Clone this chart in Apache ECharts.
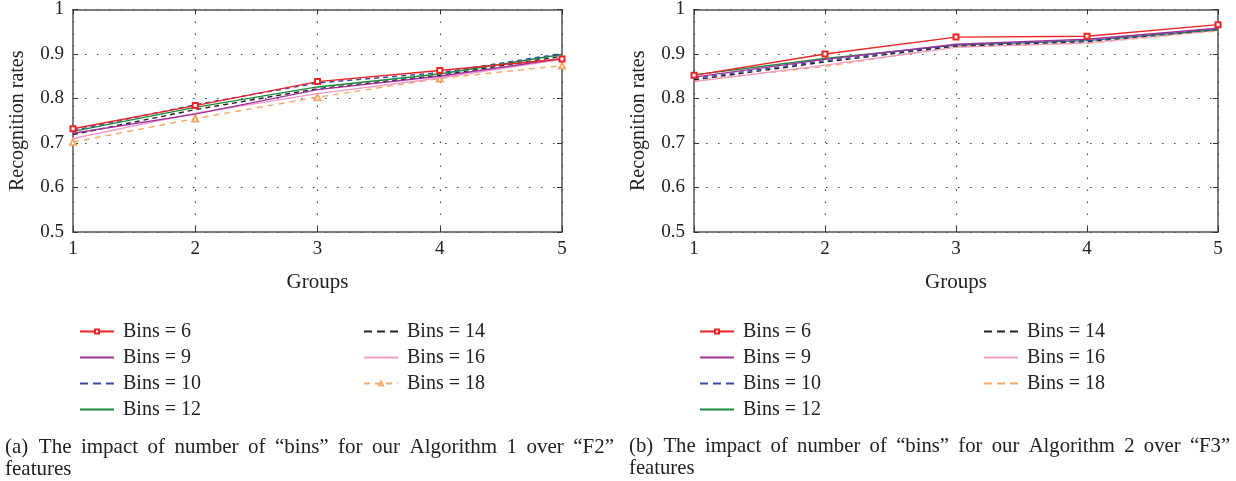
<!DOCTYPE html>
<html><head><meta charset="utf-8">
<script src="https://cdn.jsdelivr.net/npm/echarts@6/dist/echarts.min.js"></script>
<style>html,body{margin:0;padding:0;background:#fff}#c{width:1236px;height:481px}</style>
</head><body><div id="c"></div>
<script>
const groups = ['1','2','3','4','5'];
const binNames = ['Bins = 6','Bins = 9','Bins = 10','Bins = 12','Bins = 14','Bins = 16','Bins = 18'];
// Left chart (Algorithm 1 over F2)
const leftBins6  = [0.732, 0.784, 0.838, 0.863, 0.889];
const leftBins9  = [0.722, 0.765, 0.820, 0.850, 0.890];
const leftBins10 = [0.728, 0.786, 0.835, 0.858, 0.901];
const leftBins12 = [0.726, 0.780, 0.826, 0.855, 0.899];
const leftBins14 = [0.719, 0.775, 0.822, 0.852, 0.895];
const leftBins16 = [0.710, 0.767, 0.811, 0.846, 0.888];
const leftBins18 = [0.702, 0.755, 0.803, 0.845, 0.874];
// Right chart (Algorithm 2 over F3)
const rightBins6  = [0.852, 0.900, 0.938, 0.940, 0.966];
const rightBins9  = [0.848, 0.888, 0.922, 0.933, 0.958];
const rightBins10 = [0.845, 0.885, 0.920, 0.930, 0.957];
const rightBins12 = [0.853, 0.890, 0.920, 0.930, 0.955];
const rightBins14 = [0.842, 0.882, 0.918, 0.928, 0.955];
const rightBins16 = [0.838, 0.875, 0.915, 0.925, 0.953];
const rightBins18 = [0.840, 0.872, 0.917, 0.924, 0.952];
const yTicks = [0.5, 0.6, 0.7, 0.8, 0.9, 1];
const captionA = ['(a)', 'The impact of number of \u201cbins\u201d for our Algorithm 1 over \u201cF2\u201d', 'features'];
const captionB = ['(b)', 'The impact of number of \u201cbins\u201d for our Algorithm 2 over \u201cF3\u201d', 'features'];

const leftData = [leftBins6, leftBins9, leftBins10, leftBins12, leftBins14, leftBins16, leftBins18];
const rightData = [rightBins6, rightBins9, rightBins10, rightBins12, rightBins14, rightBins16, rightBins18];

const FONT = '"Liberation Serif","DejaVu Serif",serif';
const styles = [
  {color:'#ee2424', type:'solid', symbolL:'emptyRect', symbolR:'emptyRect', size:5},
  {color:'#a0309f', type:'solid', symbolL:'none', symbolR:'none'},
  {color:'#3a4aa8', type:[5,4], symbolL:'none', symbolR:'none'},
  {color:'#1a8a3a', type:'solid', symbolL:'none', symbolR:'none'},
  {color:'#222222', type:[5,4], symbolL:'none', symbolR:'none'},
  {color:'#f29ac6', type:'solid', symbolL:'none', symbolR:'none'},
  {color:'#f5aa66', type:[6,5], symbolL:'emptyTriangle', symbolR:'none', size:6}
];

function mkSeries(dataArr, xi, prefix, side){
  return dataArr.map((d,i)=>{
    const st = styles[i];
    const sym = side==='L'?st.symbolL:st.symbolR;
    return {
      name: prefix + binNames[i], type:'line', xAxisIndex:xi, yAxisIndex:xi,
      data:d, symbol: sym, symbolSize: st.size||5, showSymbol: sym!=='none',
      lineStyle:{color:st.color, width:1.4, type:st.type},
      itemStyle:{color:st.color, borderColor:st.color, borderWidth:1},
      animation:false, z: 10 - i
    };
  });
}

function xAxes(gi){
  return [{
    type:'category', gridIndex:gi, data:groups, boundaryGap:false,
    name:'Groups', nameLocation:'middle', nameGap:40,
    nameTextStyle:{fontFamily:FONT, fontSize:21, color:'#222'},
    axisLine:{show:true, lineStyle:{color:'#555', width:1.5}},
    axisTick:{show:true, inside:true, length:5, lineStyle:{color:'#333'}},
    axisLabel:{fontFamily:FONT, fontSize:19, color:'#222', margin:8},
    splitLine:{show:true, lineStyle:{color:'#444', type:[1.5,10.5], width:1.2}}
  },{
    type:'category', gridIndex:gi, data:groups, boundaryGap:false, position:'top',
    axisLine:{show:true, lineStyle:{color:'#555', width:1.5}},
    axisTick:{show:true, inside:true, length:5, lineStyle:{color:'#333'}},
    axisLabel:{show:false}, splitLine:{show:false}
  }];
}
function yAxes(gi){
  return [{
    type:'value', gridIndex:gi, min:0.5, max:1, interval:0.1,
    name:'Recognition rates', nameLocation:'middle', nameGap:45,
    nameTextStyle:{fontFamily:FONT, fontSize:20, color:'#222'},
    axisLine:{show:true, lineStyle:{color:'#555', width:1.5}},
    axisTick:{show:true, inside:true, length:5, lineStyle:{color:'#333'}},
    axisLabel:{fontFamily:FONT, fontSize:19, color:'#222', margin:9,
      formatter:v=>{const t=yTicks.find(k=>Math.abs(k-v)<1e-6); return t===undefined?'':String(t);}},
    splitLine:{show:true, lineStyle:{color:'#444', type:[1.5,10.5], width:1.2}}
  },{
    type:'value', gridIndex:gi, min:0.5, max:1, interval:0.1, position:'right',
    axisLine:{show:true, lineStyle:{color:'#555', width:1.5}},
    axisTick:{show:true, inside:true, length:5, lineStyle:{color:'#333'}},
    axisLabel:{show:false}, splitLine:{show:false}
  }];
}

const xa = [...xAxes(0), ...xAxes(1)];
const ya = [...yAxes(0), ...yAxes(1)];
const leftSeries = mkSeries(leftData, 0, '', 'L');
const rightSeries = mkSeries(rightData, 2, ' ', 'R');

function legend(idxs, left, top, isRight){
  return {
    orient:'vertical', left:left, top:top, itemWidth:34, itemHeight:5, itemGap:3,
    data: idxs.map(i=>{
      const st = styles[i];
      const sym = isRight?st.symbolR:st.symbolL;
      const item = {name:(isRight?' ':'')+binNames[i]};
      if (sym==='none') {
        item.itemStyle = {opacity:0};
        if (st.type !== 'solid') item.lineStyle = {type:[8,5]};
      }
      return item;
    }),
    formatter: n=>n.trim(),
    textStyle:{fontFamily:FONT, fontSize:20, color:'#222', padding:[0,0,0,4], lineHeight:23},
    selectedMode:false
  };
}

function justify(s){ return s.split(' ').join(' \u2009'); }

const chart = echarts.init(document.getElementById('c'), null, {renderer:'canvas'});
chart.setOption({
  backgroundColor:'#fff',
  animation:false,
  grid:[
    {left:73, right:674, top:9, height:223, show:false},
    {left:694, right:18, top:9, height:223, show:false}
  ],
  xAxis: xa, yAxis: ya,
  legend:[
    legend([0,1,2,3], 74, 315, false),
    legend([4,5,6], 358, 315, false),
    legend([0,1,2,3], 694, 315, true),
    legend([4,5,6], 978, 315, true)
  ],
  title:[
    {text: captionA[0] + '  ' + justify(captionA[1]) + '\n' + captionA[2], left:5, top:436, padding:0,
     textStyle:{fontFamily:FONT, fontSize:21, fontWeight:'normal', color:'#222', lineHeight:22}},
    {text: captionB[0] + '  ' + justify(captionB[1]) + '\n' + captionB[2], left:629, top:436, padding:0,
     textStyle:{fontFamily:FONT, fontSize:20.7, fontWeight:'normal', color:'#222', lineHeight:22}}
  ],
  series:[...leftSeries, ...rightSeries]
});
</script></body></html>
